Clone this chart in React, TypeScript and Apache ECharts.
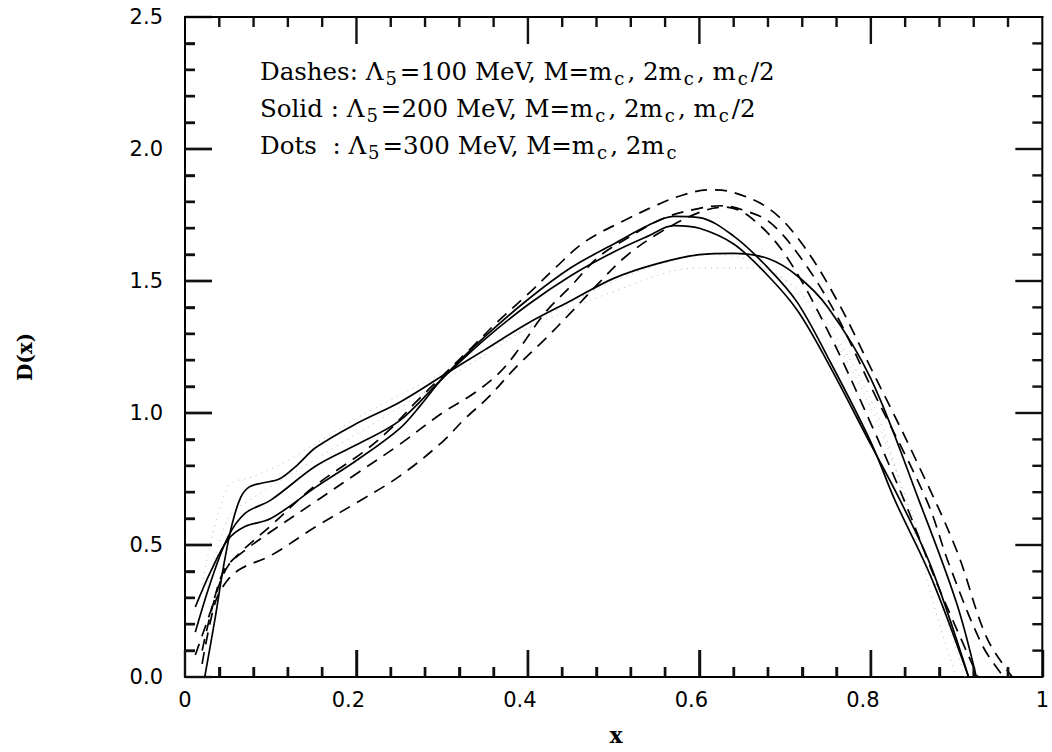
import React, { useEffect, useRef } from "react";
import * as echarts from "echarts";

// ---- data (x, D(x)) ----
const solidSoft: number[][] = [
  [0.023, 0], [0.035, 0.22], [0.045, 0.42], [0.055, 0.58], [0.065, 0.68], [0.075, 0.72],
  [0.09, 0.735], [0.11, 0.75], [0.13, 0.8], [0.153, 0.87], [0.2, 0.96], [0.25, 1.04],
  [0.3, 1.14], [0.35, 1.24], [0.4, 1.34], [0.45, 1.425], [0.5, 1.51], [0.55, 1.565],
  [0.6, 1.6], [0.64, 1.605], [0.68, 1.585], [0.714, 1.52], [0.75, 1.4], [0.8, 1.13],
  [0.856, 0.67], [0.9, 0.28], [0.923, 0],
];
const solidMid: number[][] = [
  [0.012, 0.17], [0.03, 0.36], [0.05, 0.53], [0.07, 0.62], [0.1, 0.67], [0.153, 0.8],
  [0.2, 0.88], [0.25, 0.97], [0.3, 1.13], [0.35, 1.28], [0.4, 1.41], [0.45, 1.52],
  [0.5, 1.61], [0.54, 1.67], [0.57, 1.71], [0.6, 1.7], [0.64, 1.64], [0.68, 1.52],
  [0.714, 1.39], [0.75, 1.19], [0.8, 0.88], [0.834, 0.67], [0.87, 0.42], [0.914, 0],
];
const solidHard: number[][] = [
  [0.012, 0.265], [0.03, 0.4], [0.05, 0.52], [0.07, 0.57], [0.1, 0.6], [0.153, 0.72],
  [0.2, 0.82], [0.25, 0.94], [0.275, 1.03], [0.3, 1.13], [0.35, 1.29], [0.4, 1.43],
  [0.45, 1.55], [0.5, 1.64], [0.54, 1.71], [0.57, 1.745], [0.6, 1.74], [0.64, 1.67],
  [0.68, 1.55], [0.714, 1.42], [0.75, 1.21], [0.8, 0.89], [0.828, 0.67], [0.87, 0.38],
  [0.914, 0],
];
const dashTop: number[][] = [
  [0.012, 0.083], [0.03, 0.25], [0.045, 0.4], [0.064, 0.47], [0.099, 0.57], [0.15, 0.72],
  [0.207, 0.85], [0.238, 0.935], [0.269, 1.04], [0.3, 1.14], [0.335, 1.25], [0.366, 1.35],
  [0.4, 1.45], [0.432, 1.55], [0.467, 1.65], [0.513, 1.73], [0.552, 1.79], [0.58, 1.825],
  [0.61, 1.845], [0.64, 1.835], [0.683, 1.77], [0.72, 1.64], [0.76, 1.43], [0.8, 1.17],
  [0.85, 0.84], [0.9, 0.48], [0.935, 0.15], [0.965, 0],
];
const dashMid: number[][] = [
  [0.02, 0.1], [0.035, 0.3], [0.05, 0.42], [0.07, 0.48], [0.1, 0.55], [0.15, 0.66],
  [0.2, 0.77], [0.25, 0.88], [0.3, 1.0], [0.335, 1.07], [0.366, 1.15], [0.389, 1.24],
  [0.42, 1.38], [0.45, 1.48], [0.482, 1.59], [0.52, 1.67], [0.56, 1.74], [0.6, 1.775],
  [0.625, 1.785], [0.65, 1.77], [0.683, 1.72], [0.72, 1.58], [0.76, 1.37], [0.8, 1.1],
  [0.865, 0.67], [0.892, 0.42], [0.93, 0.12], [0.955, 0],
];
const dashLow: number[][] = [
  [0.02, 0.05], [0.035, 0.28], [0.048, 0.36], [0.065, 0.41], [0.1, 0.46], [0.153, 0.57],
  [0.2, 0.66], [0.25, 0.76], [0.3, 0.89], [0.327, 0.98], [0.354, 1.06], [0.385, 1.17],
  [0.42, 1.28], [0.45, 1.38], [0.482, 1.49], [0.513, 1.59], [0.552, 1.68], [0.6, 1.76],
  [0.63, 1.78], [0.66, 1.74], [0.7, 1.6], [0.75, 1.31], [0.8, 0.96], [0.84, 0.66],
  [0.879, 0.34], [0.925, 0],
];
const dotsA: number[][] = [
  [0.02, 0.35], [0.05, 0.72], [0.08, 0.76], [0.12, 0.82], [0.2, 0.98], [0.3, 1.15],
  [0.4, 1.32], [0.5, 1.46], [0.6, 1.55], [0.66, 1.55], [0.72, 1.45], [0.8, 1.05],
  [0.85, 0.55], [0.88, 0.2], [0.9, 0],
];
const dotsB: number[][] = [
  [0.02, 0.25], [0.05, 0.6], [0.08, 0.68], [0.15, 0.82], [0.25, 1.02], [0.35, 1.22],
  [0.45, 1.42], [0.55, 1.56], [0.62, 1.6], [0.7, 1.5], [0.78, 1.15], [0.85, 0.6],
  [0.9, 0.1], [0.91, 0],
];

const xTicks = [0, 0.2, 0.4, 0.6, 0.8, 1];
const yTicks = [0, 0.5, 1.0, 1.5, 2.0, 2.5];
const X_MINOR_PER_MAJOR = 5;
const Y_MINOR_PER_MAJOR = 5;

const LABEL_FONT = "DejaVu Sans";
const SERIF = "DejaVu Serif";
const MAJOR_LEN = 27;
const MINOR_LEN = 10;
const TW = 2.4;

function xLabel(v: number): string {
  if (Math.abs(v) < 1e-9) return "0";
  if (Math.abs(v - 1) < 1e-9) return "1";
  return "{d|" + v.toFixed(1) + "}";
}

function subdivide(major: number[], per: number, wantMajor: boolean): number[] {
  const out: number[] = [];
  for (let i = 0; i < major.length - 1; i++) {
    const a = major[i], b = major[i + 1];
    if (wantMajor) { if (i > 0) out.push(a); }
    else for (let k = 1; k < per; k++) out.push(a + ((b - a) * k) / per);
  }
  return out;
}

export default function App() {
  const ref = useRef<HTMLDivElement>(null);
  useEffect(() => {
    if (!ref.current) return;
    const chart = echarts.init(ref.current, undefined, { renderer: "svg" });

    const xMin = xTicks[0], xMax = xTicks[xTicks.length - 1];
    const yMin = yTicks[0], yMax = yTicks[yTicks.length - 1];

    const curve = (data: number[][], kind: string) => ({
      type: "line",
      data,
      smooth: 0.35,
      showSymbol: false,
      symbol: "none",
      lineStyle:
        kind === "solid"
          ? { color: "#000", width: 1.7, type: "solid" }
          : kind === "dash"
          ? { color: "#000", width: 1.7, type: [12, 8] }
          : { color: "#b8b8b8", width: 1, type: [1, 5] },
    });

    // one custom series per tick family; each item draws one rect
    const tickSeries = (vals: number[], side: string, len: number) => ({
      type: "custom",
      coordinateSystem: "cartesian2d",
      clip: false,
      silent: true,
      z: 10,
      data: vals.map((v) => (side === "bottom" || side === "top" ? [v, side === "top" ? yMax : yMin] : [side === "right" ? xMax : xMin, v])),
      renderItem: (p: any, api: any) => {
        const c = api.coord([api.value(0), api.value(1)]);
        let shape;
        if (side === "bottom") shape = { x: c[0] - TW / 2, y: c[1] - len, width: TW, height: len };
        else if (side === "top") shape = { x: c[0] - TW / 2, y: c[1], width: TW, height: len };
        else if (side === "left") shape = { x: c[0], y: c[1] - TW / 2, width: len, height: TW };
        else shape = { x: c[0] - len, y: c[1] - TW / 2, width: len, height: TW };
        return { type: "rect", shape, style: { fill: "#111" } };
      },
    });

    // top and right frame edges
    const frameSeries = {
      type: "custom",
      coordinateSystem: "cartesian2d",
      clip: false,
      silent: true,
      data: [[xMin, yMax], [xMax, yMin]],
      renderItem: (p: any, api: any) => {
        const isTop = api.value(1) === yMax;
        const a = api.coord([xMin, yMax]);
        const b = api.coord([xMax, yMax]);
        const c = api.coord([xMax, yMin]);
        const shape = isTop
          ? { x: a[0] - 1, y: a[1] - 1, width: b[0] - a[0] + 2, height: 2 }
          : { x: b[0] - 1, y: b[1] - 1, width: 2, height: c[1] - b[1] + 2 };
        return { type: "rect", shape, style: { fill: "#000" } };
      },
    };

    const xMajor = subdivide(xTicks, X_MINOR_PER_MAJOR, true);
    const xMinor = subdivide(xTicks, X_MINOR_PER_MAJOR, false);
    const yMajor = subdivide(yTicks, Y_MINOR_PER_MAJOR, true);
    const yMinor = subdivide(yTicks, Y_MINOR_PER_MAJOR, false);

    const sub = (t: string) => "{s|" + t + "}";
    const legendRich = {
      t: { fontFamily: SERIF, fontSize: 24.5, color: "#000" },
      s: { fontFamily: SERIF, fontSize: 18, color: "#000", padding: [14, 3, 0, 2] },
    };
    const legendLines = [
      "{t|Dashes: Λ}" + sub("5") + "{t|=100 MeV, M=m}" + sub("c") + "{t|, 2m}" + sub("c") + "{t|, m}" + sub("c") + "{t|/2}",
      "{t|Solid : Λ}" + sub("5") + "{t|=200 MeV, M=m}" + sub("c") + "{t|, 2m}" + sub("c") + "{t|, m}" + sub("c") + "{t|/2}",
      "{t|Dots  : Λ}" + sub("5") + "{t|=300 MeV, M=m}" + sub("c") + "{t|, 2m}" + sub("c"),
    ];
    const legendY = [71, 108, 145];

    chart.setOption({
      animation: false,
      grid: { left: 185, right: 6, top: 17, bottom: 75 },
      xAxis: {
        type: "value", min: xMin, max: xMax, interval: 0.2,
        axisLine: { show: true, lineStyle: { color: "#000", width: 2 } },
        axisTick: { show: true, inside: true, length: MAJOR_LEN, lineStyle: { color: "#111", width: 2.4 } },
        minorTick: { show: true, splitNumber: X_MINOR_PER_MAJOR, length: MINOR_LEN, lineStyle: { color: "#111", width: 2.4 } },
        splitLine: { show: false },
        axisLabel: {
          show: true, margin: 12, color: "#000", fontFamily: LABEL_FONT, fontSize: 21,
          formatter: xLabel,
          rich: { d: { fontFamily: LABEL_FONT, fontSize: 21, color: "#000", padding: [0, 16, 0, 0] } },
        },
      },
      yAxis: {
        type: "value", min: yMin, max: yMax, interval: 0.5,
        axisLine: { show: true, lineStyle: { color: "#000", width: 2 } },
        axisTick: { show: true, inside: true, length: MAJOR_LEN, lineStyle: { color: "#111", width: 2.4 } },
        minorTick: { show: true, splitNumber: Y_MINOR_PER_MAJOR, length: MINOR_LEN, lineStyle: { color: "#111", width: 2.4 } },
        splitLine: { show: false },
        axisLabel: {
          show: true, margin: 22, color: "#000", fontFamily: LABEL_FONT, fontSize: 21,
          formatter: (v: number) => v.toFixed(1),
        },
      },
      series: [
        curve(dotsA, "dot"),
        curve(dotsB, "dot"),
        curve(solidSoft, "solid"),
        curve(solidMid, "solid"),
        curve(solidHard, "solid"),
        curve(dashTop, "dash"),
        curve(dashMid, "dash"),
        curve(dashLow, "dash"),
        frameSeries,
        tickSeries(xMajor, "top", MAJOR_LEN),
        tickSeries(xMinor, "top", MINOR_LEN),
        tickSeries(yMajor, "right", MAJOR_LEN),
        tickSeries(yMinor, "right", MINOR_LEN),
        tickSeries(xMajor, "bottom", MAJOR_LEN),
        tickSeries(xMinor, "bottom", MINOR_LEN),
        tickSeries(yMajor, "left", MAJOR_LEN),
        tickSeries(yMinor, "left", MINOR_LEN),
      ],
      graphic: [
        ...legendLines.map((txt, i) => ({
          type: "text",
          x: 260,
          y: legendY[i],
          style: { text: txt, rich: legendRich, align: "left", verticalAlign: "middle", fill: "#000" },
        })),
        {
          type: "text", x: 616, y: 735,
          style: { text: "x", font: "bold 22px " + SERIF, fill: "#000", align: "center", verticalAlign: "middle" },
        },
        {
          type: "text", x: 25, y: 357, rotation: Math.PI / 2,
          style: { text: "D(x)", font: "bold 20px " + SERIF, fill: "#000", align: "center", verticalAlign: "middle" },
        },
      ],
    });
    return () => chart.dispose();
  }, []);
  return (
    <div
      ref={ref}
      style={{ position: "fixed", left: 0, top: 0, width: 1052, height: 752, background: "#fff" }}
    />
  );
}
